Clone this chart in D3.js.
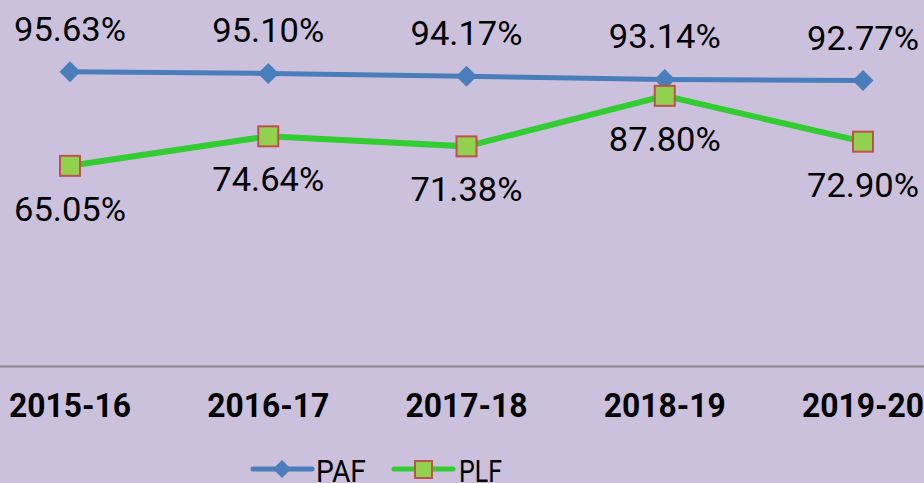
<!DOCTYPE html>
<html><head><meta charset="utf-8">
<script src="https://cdn.jsdelivr.net/npm/d3@7"></script>
<style>body{margin:0;background:#ccc1dd;}svg{display:block;}</style>
</head><body>
<svg id="c" width="924" height="483"></svg>
<script>
const categories = ["2015-16","2016-17","2017-18","2018-19","2019-20"];
const paf = [95.63, 95.10, 94.17, 93.14, 92.77];
const plf = [65.05, 74.64, 71.38, 87.80, 72.90];
const seriesNames = ["PAF","PLF"];

const svg = d3.select("#c");
const W = 924, H = 483;
svg.append("rect").attr("width",W).attr("height",H).attr("fill","#ccc1dd");

const x = d3.scalePoint().domain(categories).range([70, 863]);
const y = d3.scaleLinear().domain([0,100]).range([366, 58.3]);

// baseline axis
svg.append("line").attr("x1",0).attr("x2",W).attr("y1",y(0)+0.5).attr("y2",y(0)+0.5)
  .attr("stroke","#878787").attr("stroke-width",2);

// category labels
svg.append("g").selectAll("text").data(categories).join("text")
  .attr("x",d=>x(d)).attr("y",417).attr("text-anchor","middle")
  .attr("font-family","Roboto").attr("font-weight","bold").attr("font-size",34)
  .attr("textLength",122).attr("lengthAdjust","spacingAndGlyphs")
  .attr("fill","#000").text(d=>d);

const line = d3.line().x((d,i)=>x(categories[i])).y(d=>y(d));

svg.append("path").datum(paf).attr("d",line).attr("fill","none")
  .attr("stroke","#4a7ebb").attr("stroke-width",5);
svg.append("path").datum(plf).attr("d",line).attr("fill","none")
  .attr("stroke","#33cc33").attr("stroke-width",6);

const diamond = (cx,cy,r)=>`M${cx},${cy-r}L${cx+r},${cy}L${cx},${cy+r}L${cx-r},${cy}Z`;
svg.append("g").selectAll("path").data(paf).join("path")
  .attr("d",(d,i)=>diamond(x(categories[i]),y(d),10.5)).attr("fill","#4a7ebb");
svg.append("g").selectAll("rect").data(plf).join("rect")
  .attr("x",(d,i)=>x(categories[i])-10).attr("y",d=>y(d)-10)
  .attr("width",20).attr("height",20)
  .attr("fill","#92d050").attr("stroke","#c0504d").attr("stroke-width",2);

// data labels
const lab = (data, dy) => svg.append("g").selectAll("text").data(data).join("text")
  .attr("x",(d,i)=>x(categories[i])).attr("y",d=>y(d)+dy).attr("text-anchor","middle")
  .attr("font-family","Roboto").attr("font-size",33)
  .attr("textLength",112).attr("lengthAdjust","spacingAndGlyphs")
  .attr("fill","#000").text(d=>d.toFixed(2)+"%");
lab(paf, -31);
lab(plf, 55);

// legend
const lg = svg.append("g");
lg.append("line").attr("x1",253).attr("x2",312).attr("y1",469).attr("y2",469)
  .attr("stroke","#4a7ebb").attr("stroke-width",5).attr("stroke-linecap","round");
lg.append("path").attr("d",diamond(282,469,9)).attr("fill","#4a7ebb");
lg.append("text").attr("x",316).attr("y",482).attr("font-family","Roboto").attr("font-size",32)
  .attr("textLength",50).attr("lengthAdjust","spacingAndGlyphs").text(seriesNames[0]);
lg.append("line").attr("x1",394).attr("x2",453).attr("y1",469).attr("y2",469)
  .attr("stroke","#33cc33").attr("stroke-width",5).attr("stroke-linecap","round");
lg.append("rect").attr("x",415).attr("y",461).attr("width",17).attr("height",17)
  .attr("fill","#92d050").attr("stroke","#c0504d").attr("stroke-width",2);
lg.append("text").attr("x",459).attr("y",482).attr("font-family","Roboto").attr("font-size",32)
  .attr("textLength",43).attr("lengthAdjust","spacingAndGlyphs").text(seriesNames[1]);
</script>
</body></html>
